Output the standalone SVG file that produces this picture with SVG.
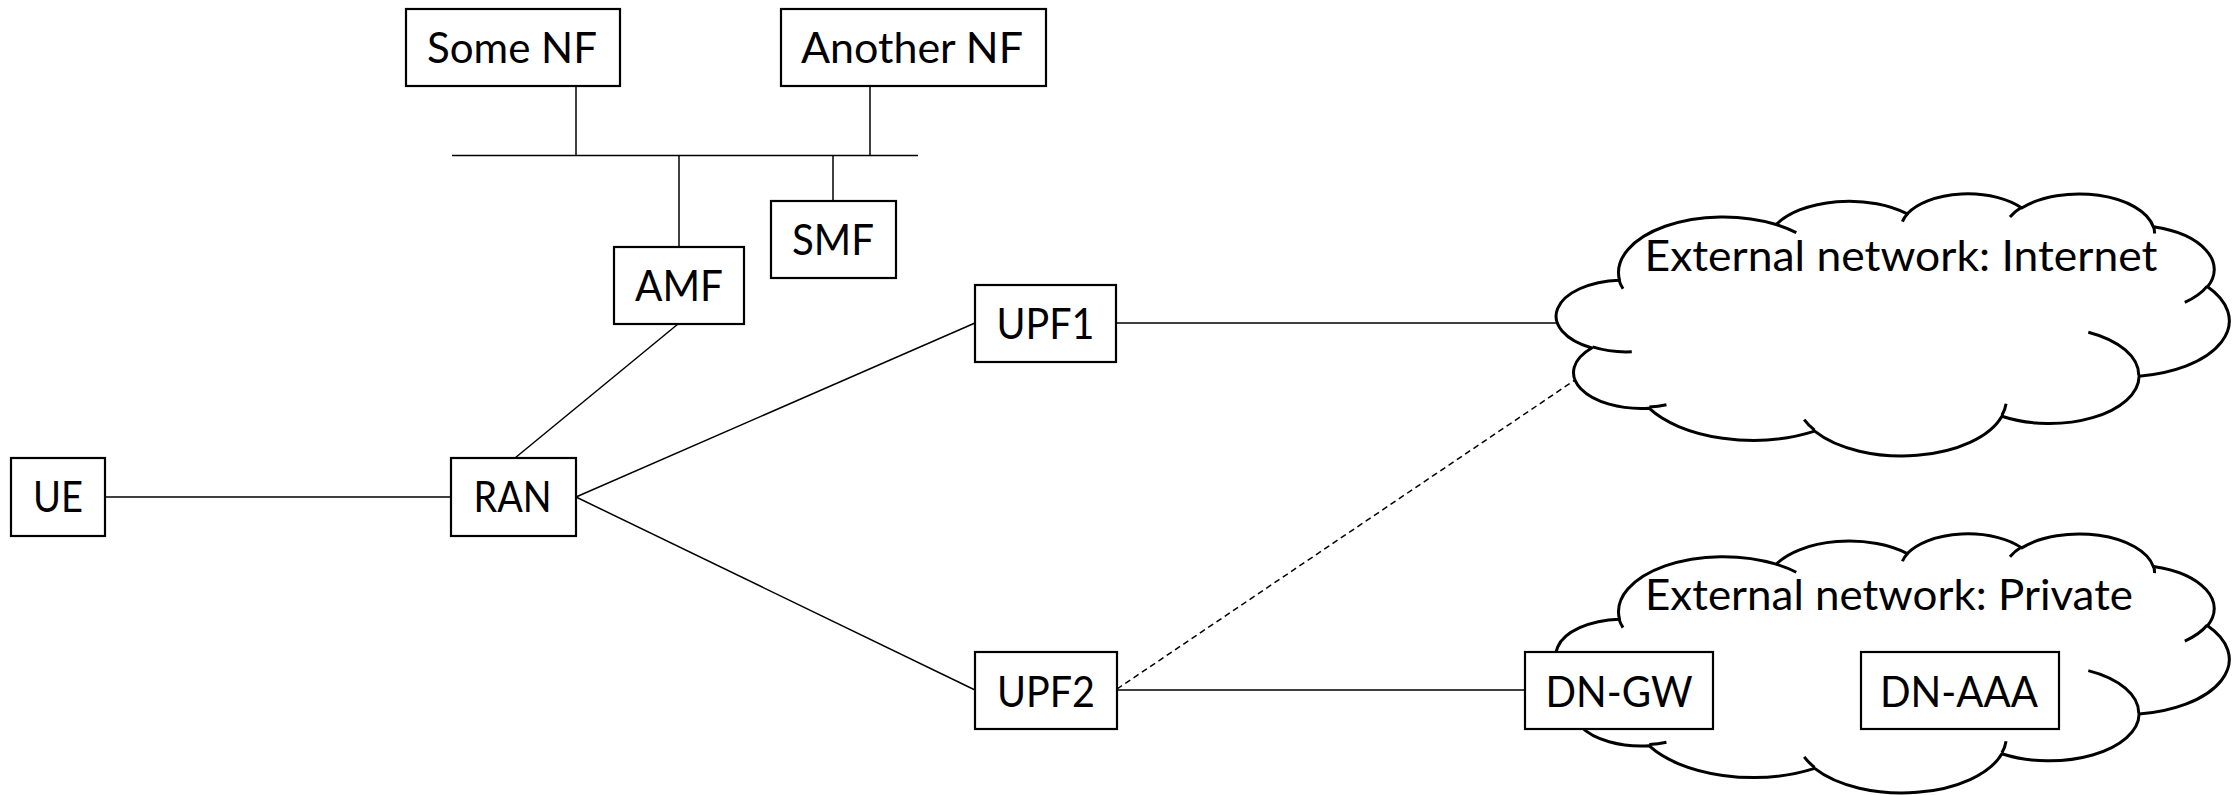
<svg xmlns="http://www.w3.org/2000/svg" width="2237" height="795" viewBox="0 0 2237 795">
  <style>
    .box { fill: #ffffff; stroke: #000000; stroke-width: 2.2; }
    .lbl { font-family: Lato, "Liberation Sans", sans-serif; font-size: 43px; fill: #000000; text-anchor: middle; }
    .wire { stroke: #000000; stroke-width: 1.5; fill: none; }
    .dash { stroke-dasharray: 6 4; }
    .cloud { fill: #ffffff; stroke: #000000; stroke-width: 3; stroke-linejoin: round; }
    .crease { fill: none; stroke: #000000; stroke-width: 3; }
  </style>

  <g id="connectors">
    <path class="wire" d="M452 155.5 H918"/>
    <path class="wire" d="M576 86 V155.5"/>
    <path class="wire" d="M870 86 V155.5"/>
    <path class="wire" d="M679 155.5 V247"/>
    <path class="wire" d="M833 155.5 V201"/>
    <path class="wire" d="M678 324 L515 458"/>
    <path class="wire" d="M105 497 H451"/>
    <path class="wire" d="M576 497 L975 323"/>
    <path class="wire" d="M576 497 L975 690"/>
    <path class="wire" d="M1116 323 H1562"/>
    <path class="wire" d="M1117 690 H1525"/>
    <path class="wire dash" d="M1117 689 L1575 380"/>
  </g>

  <g id="internet-cloud">
    <path class="cloud" d="M1619.49 280.15 A104.73 55.74 0 0 1 1776.20 224.55 A82.71 44.07 0 0 1 1907.29 213.82 A67.70 36.06 0 0 1 2021.70 208.05 A75.33 40.00 0 0 1 2153.29 226.82 A82.71 44.11 0 0 1 2207.57 286.76 A105.07 55.92 0 0 1 2139.11 376.18 A89.72 47.71 0 0 1 2001.89 416.28 A104.72 55.89 0 0 1 1814.62 431.15 A119.73 63.94 0 0 1 1649.05 408.14 A67.62 35.89 0 0 1 1591.79 347.97 A67.39 36.06 0 0 1 1619.49 280.15 Z"/>
    <path class="crease" d="M1631.78 351.76 A67.39 36.06 0 0 1 1592.50 346.93 M1666.45 404.66 A67.62 35.89 0 0 1 1649.26 406.98 M1814.56 430.08 A104.72 55.89 0 0 1 1804.20 419.52 M2006.08 403.77 A104.72 55.89 0 0 1 2001.94 415.34 M2088.31 332.22 A89.72 47.71 0 0 1 2138.74 375.50 M2207.24 286.12 A82.71 44.11 0 0 1 2184.79 302.35 M2153.37 225.91 A75.33 40.00 0 0 1 2154.56 233.57 M2009.97 216.97 A75.33 40.00 0 0 1 2021.48 207.20 M1902.38 221.63 A67.70 36.06 0 0 1 1907.95 213.20 M1776.13 224.49 A104.73 55.74 0 0 1 1796.30 232.68 M1623.01 288.76 A104.73 55.74 0 0 1 1619.00 280.13"/>
    <text class="lbl" x="1901" y="271" textLength="513" lengthAdjust="spacingAndGlyphs">External network: Internet</text>
  </g>

  <g id="private-cloud">
    <path class="cloud" d="M1619.49 619.15 A104.73 55.10 0 0 1 1776.20 564.19 A82.71 43.57 0 0 1 1907.29 553.58 A67.70 35.64 0 0 1 2021.70 547.88 A75.33 39.54 0 0 1 2153.29 566.44 A82.71 43.61 0 0 1 2207.57 625.69 A105.07 55.28 0 0 1 2139.11 714.08 A89.72 47.17 0 0 1 2001.89 753.71 A104.72 55.25 0 0 1 1814.62 768.42 A119.73 63.21 0 0 1 1649.05 745.67 A67.62 35.48 0 0 1 1591.79 686.19 A67.39 35.64 0 0 1 1619.49 619.15 Z"/>
    <path class="crease" d="M1631.78 689.94 A67.39 35.64 0 0 1 1592.50 685.16 M1666.45 742.23 A67.62 35.48 0 0 1 1649.26 744.52 M1814.56 767.36 A104.72 55.25 0 0 1 1804.20 756.92 M2006.08 741.35 A104.72 55.25 0 0 1 2001.94 752.79 M2088.31 670.62 A89.72 47.17 0 0 1 2138.74 713.40 M2207.24 625.05 A82.71 43.61 0 0 1 2184.79 641.10 M2153.37 565.53 A75.33 39.54 0 0 1 2154.56 573.11 M2009.97 556.69 A75.33 39.54 0 0 1 2021.48 547.04 M1902.38 561.30 A67.70 35.64 0 0 1 1907.95 552.96 M1776.13 564.13 A104.73 55.10 0 0 1 1796.30 572.22 M1623.01 627.66 A104.73 55.10 0 0 1 1619.00 619.13"/>
    <text class="lbl" x="1889" y="610" textLength="488" lengthAdjust="spacingAndGlyphs">External network: Private</text>
  </g>

  <g id="some-nf">
    <rect class="box" x="406" y="9" width="214" height="77"/>
    <text class="lbl" x="512" y="63" textLength="170" lengthAdjust="spacingAndGlyphs">Some NF</text>
  </g>
  <g id="another-nf">
    <rect class="box" x="781" y="9" width="265" height="77"/>
    <text class="lbl" x="912" y="63" textLength="222" lengthAdjust="spacingAndGlyphs">Another NF</text>
  </g>
  <g id="smf">
    <rect class="box" x="771" y="201" width="125" height="77"/>
    <text class="lbl" x="833" y="255" textLength="82" lengthAdjust="spacingAndGlyphs">SMF</text>
  </g>
  <g id="amf">
    <rect class="box" x="614" y="247" width="130" height="77"/>
    <text class="lbl" x="679" y="301" textLength="88" lengthAdjust="spacingAndGlyphs">AMF</text>
  </g>
  <g id="upf1">
    <rect class="box" x="975" y="285" width="141" height="77"/>
    <text class="lbl" x="1045.5" y="339" textLength="98" lengthAdjust="spacingAndGlyphs">UPF1</text>
  </g>
  <g id="ue">
    <rect class="box" x="11" y="458" width="94" height="78"/>
    <text class="lbl" x="58" y="512" textLength="50" lengthAdjust="spacingAndGlyphs">UE</text>
  </g>
  <g id="ran">
    <rect class="box" x="451" y="458" width="125" height="78"/>
    <text class="lbl" x="512.5" y="512" textLength="78" lengthAdjust="spacingAndGlyphs">RAN</text>
  </g>
  <g id="upf2">
    <rect class="box" x="975" y="652" width="142" height="77"/>
    <text class="lbl" x="1046" y="707" textLength="98" lengthAdjust="spacingAndGlyphs">UPF2</text>
  </g>
  <g id="dn-gw">
    <rect class="box" x="1525" y="652" width="188" height="77"/>
    <text class="lbl" x="1619" y="707" textLength="147" lengthAdjust="spacingAndGlyphs">DN-GW</text>
  </g>
  <g id="dn-aaa">
    <rect class="box" x="1861" y="652" width="198" height="77"/>
    <text class="lbl" x="1959" y="707" textLength="158" lengthAdjust="spacingAndGlyphs">DN-AAA</text>
  </g>
</svg>
